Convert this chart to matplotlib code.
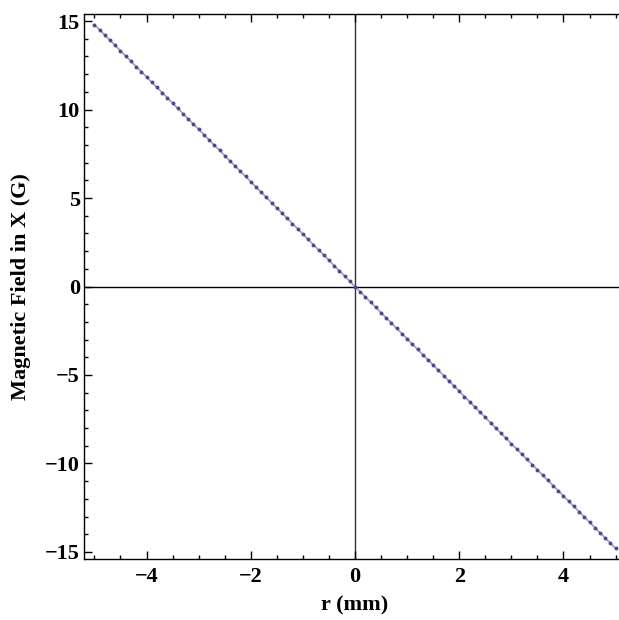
import matplotlib
matplotlib.use("Agg")
import matplotlib.pyplot as plt
from matplotlib.ticker import MultipleLocator

r_mm = [-5.0, -4.9, -4.8, -4.7, -4.6, -4.5, -4.4, -4.3, -4.2, -4.1,
        -4.0, -3.9, -3.8, -3.7, -3.6, -3.5, -3.4, -3.3, -3.2, -3.1,
        -3.0, -2.9, -2.8, -2.7, -2.6, -2.5, -2.4, -2.3, -2.2, -2.1,
        -2.0, -1.9, -1.8, -1.7, -1.6, -1.5, -1.4, -1.3, -1.2, -1.1,
        -1.0, -0.9, -0.8, -0.7, -0.6, -0.5, -0.4, -0.3, -0.2, -0.1,
        0.0, 0.1, 0.2, 0.3, 0.4, 0.5, 0.6, 0.7, 0.8, 0.9,
        1.0, 1.1, 1.2, 1.3, 1.4, 1.5, 1.6, 1.7, 1.8, 1.9,
        2.0, 2.1, 2.2, 2.3, 2.4, 2.5, 2.6, 2.7, 2.8, 2.9,
        3.0, 3.1, 3.2, 3.3, 3.4, 3.5, 3.6, 3.7, 3.8, 3.9,
        4.0, 4.1, 4.2, 4.3, 4.4, 4.5, 4.6, 4.7, 4.8, 4.9, 5.0]

bx_gauss = [14.80, 14.50, 14.21, 13.91, 13.62, 13.32, 13.02, 12.73, 12.43, 12.14,
            11.84, 11.54, 11.25, 10.95, 10.66, 10.36, 10.06, 9.77, 9.47, 9.18,
            8.88, 8.58, 8.29, 7.99, 7.70, 7.40, 7.10, 6.81, 6.51, 6.22,
            5.92, 5.62, 5.33, 5.03, 4.74, 4.44, 4.14, 3.85, 3.55, 3.26,
            2.96, 2.66, 2.37, 2.07, 1.78, 1.48, 1.18, 0.89, 0.59, 0.30,
            0.00, -0.30, -0.59, -0.89, -1.18, -1.48, -1.78, -2.07, -2.37, -2.66,
            -2.96, -3.26, -3.55, -3.85, -4.14, -4.44, -4.74, -5.03, -5.33, -5.62,
            -5.92, -6.22, -6.51, -6.81, -7.10, -7.40, -7.70, -7.99, -8.29, -8.58,
            -8.88, -9.18, -9.47, -9.77, -10.06, -10.36, -10.66, -10.95, -11.25, -11.54,
            -11.84, -12.14, -12.43, -12.73, -13.02, -13.32, -13.62, -13.91, -14.21, -14.50, -14.80]

x_ticks = [-4, -2, 0, 2, 4]
y_ticks = [-15, -10, -5, 0, 5, 10, 15]

plt.rcParams["font.family"] = ["Liberation Serif", "DejaVu Serif"]
plt.rcParams["font.weight"] = "bold"

fig = plt.figure(figsize=(6.19, 6.20), dpi=100)
ax = fig.add_axes([84 / 619, 1 - 559 / 620, 542 / 619, 545 / 620])

ax.axhline(0, color="black", lw=1.0, zorder=1)
ax.axvline(0, color="#333333", lw=1.0, zorder=1)

ax.plot(r_mm, bx_gauss, color="#9a9ad0", lw=1.2, zorder=2)
ax.plot(r_mm, bx_gauss, ls="none", marker="o", ms=2.8, color="#4a4a8a",
        markeredgewidth=0, zorder=3)

ax.set_xlim(-5.2, 5.2)
ax.set_ylim(-15.4, 15.4)
ax.set_xticks(x_ticks)
ax.set_yticks(y_ticks)
ax.xaxis.set_minor_locator(MultipleLocator(0.5))
ax.yaxis.set_minor_locator(MultipleLocator(1))
ax.tick_params(which="both", direction="in", top=True, right=False,
               labelsize=16, width=1.0)
ax.tick_params(axis="y", pad=3)
ax.tick_params(axis="x", pad=6)
ax.tick_params(which="major", length=6)
ax.tick_params(which="minor", length=3)
for lab in ax.get_xticklabels() + ax.get_yticklabels():
    lab.set_fontweight("bold")

for s in ax.spines.values():
    s.set_linewidth(1.0)

ax.set_xlabel("r (mm)", fontsize=16, fontweight="bold", labelpad=6)
ax.set_ylabel("Magnetic Field in X (G)", fontsize=16, fontweight="bold", labelpad=10)

fig.savefig("out.png", dpi=100)
